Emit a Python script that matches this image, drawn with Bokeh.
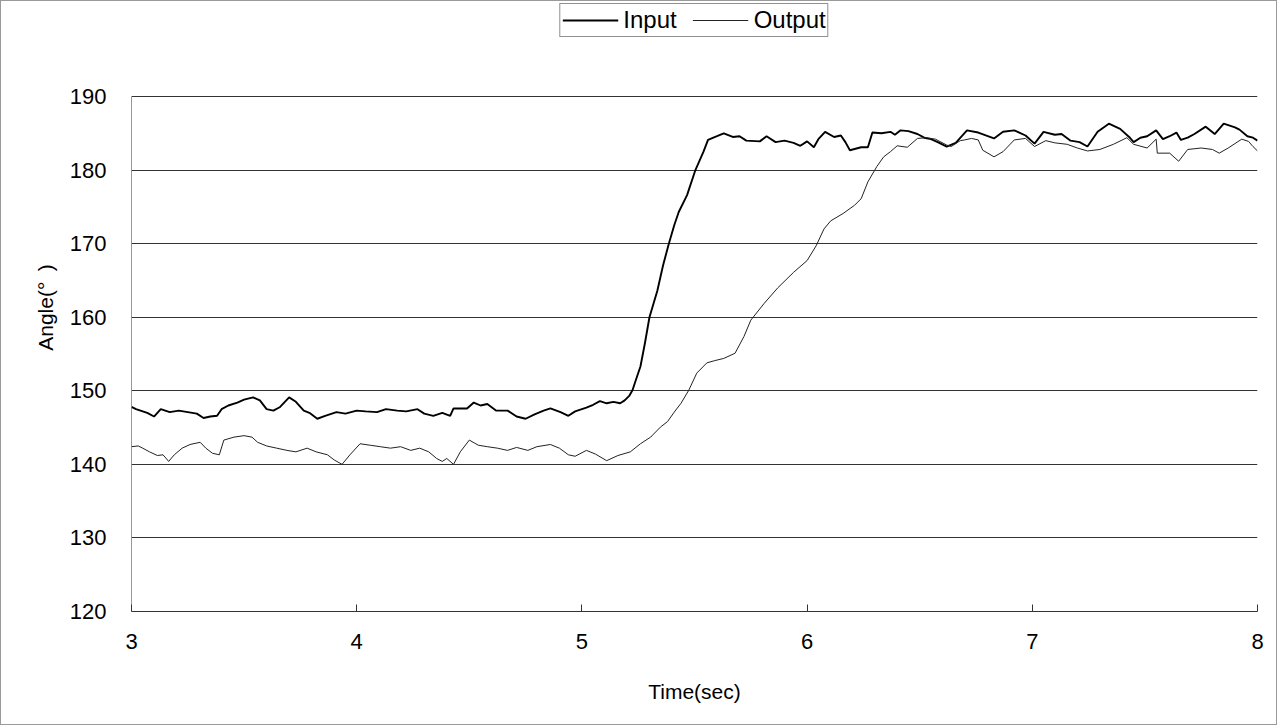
from bokeh.plotting import figure
from bokeh.models import Legend, LegendItem, FixedTicker, Range1d
from bokeh.embed import file_html
from bokeh.resources import INLINE

# ---- data ----
input_time = [3.00, 3.02, 3.04, 3.07, 3.10, 3.13, 3.17, 3.21, 3.25, 3.29, 3.32, 3.35, 3.38, 3.40,
              3.43, 3.47, 3.50, 3.54, 3.57, 3.60, 3.63, 3.66, 3.70, 3.73, 3.765, 3.79, 3.825, 3.86,
              3.91, 3.95, 4.00, 4.04, 4.09, 4.13, 4.18, 4.22, 4.27, 4.30, 4.34, 4.38, 4.415, 4.43,
              4.49, 4.52, 4.55, 4.58, 4.62, 4.67, 4.71, 4.75, 4.79, 4.83, 4.86, 4.905, 4.94, 4.97,
              5.02, 5.05, 5.08, 5.11, 5.14, 5.17, 5.19, 5.21, 5.225, 5.24, 5.26, 5.28, 5.30, 5.335,
              5.36, 5.386, 5.41, 5.43, 5.467, 5.504, 5.54, 5.56, 5.60, 5.63, 5.67, 5.70, 5.73, 5.79,
              5.82, 5.86, 5.90, 5.94, 5.97, 6.00, 6.03, 6.05, 6.08, 6.12, 6.15, 6.17, 6.19, 6.24,
              6.27, 6.29, 6.33, 6.37, 6.39, 6.415, 6.45, 6.49, 6.52, 6.55, 6.58, 6.62, 6.66, 6.71,
              6.76, 6.83, 6.87, 6.92, 6.97, 7.01, 7.05, 7.10, 7.13, 7.17, 7.21, 7.245, 7.29, 7.34,
              7.39, 7.43, 7.45, 7.48, 7.51, 7.55, 7.58, 7.61, 7.64, 7.66, 7.69, 7.72, 7.77, 7.81,
              7.85, 7.90, 7.92, 7.955, 7.98, 8.00]
input_angle = [147.8, 147.5, 147.3, 147.0, 146.5, 147.5, 147.1, 147.3, 147.1, 146.9, 146.3, 146.5, 146.6, 147.5,
               148.0, 148.4, 148.8, 149.1, 148.7, 147.5, 147.3, 147.8, 149.1, 148.5, 147.3, 147.0, 146.2, 146.6,
               147.1, 146.9, 147.3, 147.2, 147.1, 147.5, 147.3, 147.2, 147.5, 146.9, 146.6, 147.0, 146.6, 147.6,
               147.6, 148.4, 148.0, 148.2, 147.3, 147.3, 146.5, 146.2, 146.8, 147.3, 147.6, 147.1, 146.6, 147.2,
               147.7, 148.1, 148.6, 148.3, 148.5, 148.3, 148.7, 149.3, 150.1, 151.5, 153.3, 156.5, 160.0, 163.6,
               167.0, 170.0, 172.5, 174.3, 176.6, 180.0, 182.5, 184.1, 184.6, 185.0, 184.5, 184.6, 184.0, 183.9,
               184.6, 183.8, 184.0, 183.7, 183.3, 183.9, 183.1, 184.2, 185.2, 184.5, 184.7, 183.8, 182.7, 183.1,
               183.1, 185.1, 185.0, 185.2, 184.8, 185.4, 185.3, 184.9, 184.4, 184.2, 183.8, 183.2, 183.7, 185.4,
               185.1, 184.3, 185.2, 185.4, 184.7, 183.6, 185.2, 184.8, 184.9, 184.0, 183.8, 183.2, 185.2, 186.3,
               185.6, 184.5, 183.8, 184.4, 184.6, 185.4, 184.2, 184.6, 185.1, 184.1, 184.4, 184.9, 185.9, 184.9,
               186.3, 185.8, 185.5, 184.6, 184.4, 184.0]

output_time = [3.00, 3.03, 3.05, 3.08, 3.115, 3.14, 3.165, 3.19, 3.225, 3.26, 3.305, 3.33, 3.36, 3.39,
               3.41, 3.455, 3.50, 3.535, 3.56, 3.60, 3.645, 3.69, 3.73, 3.78, 3.82, 3.87, 3.90, 3.935,
               3.97, 4.015, 4.06, 4.105, 4.15, 4.195, 4.24, 4.28, 4.32, 4.355, 4.38, 4.40, 4.43, 4.46,
               4.50, 4.54, 4.58, 4.625, 4.67, 4.71, 4.76, 4.80, 4.86, 4.90, 4.94, 4.97, 5.02, 5.06,
               5.11, 5.16, 5.215, 5.26, 5.305, 5.35, 5.38, 5.41, 5.44, 5.475, 5.51, 5.555, 5.59, 5.63,
               5.68, 5.72, 5.75, 5.81, 5.87, 5.94, 6.00, 6.04, 6.075, 6.105, 6.16, 6.21, 6.24, 6.27,
               6.31, 6.34, 6.37, 6.40, 6.445, 6.49, 6.53, 6.57, 6.62, 6.64, 6.68, 6.70, 6.73, 6.76,
               6.78, 6.83, 6.87, 6.92, 6.97, 7.01, 7.06, 7.10, 7.155, 7.20, 7.245, 7.30, 7.36, 7.42,
               7.45, 7.51, 7.55, 7.555, 7.61, 7.65, 7.69, 7.75, 7.80, 7.83, 7.87, 7.93, 7.96, 7.98, 8.00]
output_angle = [142.4, 142.5, 142.2, 141.7, 141.2, 141.3, 140.4, 141.3, 142.2, 142.7, 143.0, 142.2, 141.5, 141.3,
                143.3, 143.7, 143.9, 143.7, 143.0, 142.5, 142.2, 141.9, 141.7, 142.2, 141.7, 141.3, 140.6, 140.0,
                141.3, 142.8, 142.6, 142.4, 142.2, 142.4, 141.9, 142.2, 141.7, 140.8, 140.4, 140.8, 140.0, 141.7,
                143.3, 142.6, 142.4, 142.2, 141.9, 142.3, 141.9, 142.4, 142.7, 142.2, 141.3, 141.1, 141.9, 141.4,
                140.5, 141.2, 141.7, 142.8, 143.7, 145.1, 145.8, 147.1, 148.3, 150.1, 152.4, 153.8, 154.1, 154.4,
                155.1, 157.4, 159.6, 161.9, 164.0, 166.1, 167.7, 169.7, 172.0, 173.1, 174.1, 175.2, 176.1, 178.4,
                180.5, 181.8, 182.5, 183.3, 183.1, 184.3, 184.4, 184.2, 183.4, 183.2, 184.0, 184.1, 184.3, 184.1,
                182.7, 181.8, 182.5, 184.1, 184.3, 183.2, 184.0, 183.7, 183.5, 183.0, 182.6, 182.8, 183.5, 184.4,
                183.5, 183.0, 184.2, 182.3, 182.3, 181.2, 182.8, 183.0, 182.8, 182.3, 183.0, 184.2, 183.9, 183.2, 182.6]

x_ticks = [3, 4, 5, 6, 7, 8]
y_ticks = [120, 130, 140, 150, 160, 170, 180, 190]
series_names = ["Input", "Output"]

FONT = "Liberation Sans"

# plot-area geometry: value axis 120..190 spans 515 px; the frame extends up to the
# top of the canvas so that the legend (inside the frame) can sit at the very top.
AXIS_PX = 515
TOP_EXTRA_PX = 93
y_lo, y_hi = y_ticks[0], y_ticks[-1]
y_top = y_lo + (y_hi - y_lo) * (AXIS_PX + TOP_EXTRA_PX) / AXIS_PX

p = figure(width=1275, height=723, frame_width=1126, frame_height=AXIS_PX + TOP_EXTRA_PX,
           x_range=Range1d(x_ticks[0], x_ticks[-1]), y_range=Range1d(y_lo, y_top),
           output_backend="svg", toolbar_location=None,
           min_border_left=130, min_border_right=19, min_border_top=2, min_border_bottom=113)
p.styles = {"border": "1px solid #9a9a9a"}
p.background_fill_color = "white"
p.border_fill_color = "white"
p.outline_line_color = None

r_in = p.line(input_time, input_angle, line_color="black", line_width=1.9)
r_out = p.line(output_time, output_angle, line_color="#222222", line_width=1.0)

# left value-axis line only over the value span
p.segment(x0=[x_ticks[0]], y0=[y_lo], x1=[x_ticks[0]], y1=[y_hi], line_color="#333333", line_width=1)

# axes
p.xaxis.ticker = FixedTicker(ticks=x_ticks)
p.yaxis.ticker = FixedTicker(ticks=y_ticks)
for ax in (p.xaxis[0], p.yaxis[0]):
    ax.axis_line_color = "#333333"
    ax.axis_line_width = 1
    ax.major_label_text_font = FONT
    ax.major_label_text_font_size = "22px"
    ax.major_label_text_color = "black"
    ax.axis_label_text_font = FONT
    ax.axis_label_text_font_size = "21px"
    ax.axis_label_text_font_style = "normal"
    ax.axis_label_text_color = "black"
    ax.minor_tick_line_color = None

p.xaxis.major_tick_in = 7
p.xaxis.major_tick_out = 0
p.xaxis.major_tick_line_color = "#333333"
p.xaxis.major_label_standoff = 22
p.xaxis.axis_label = "Time(sec)"
p.xaxis.axis_label_standoff = 28

p.yaxis.axis_line_color = None
p.yaxis.major_tick_line_color = None
p.yaxis.major_label_standoff = 19
p.yaxis.axis_label = "Angle(°\u2002)"
p.yaxis.axis_label_standoff = 10

p.xgrid.grid_line_color = None
p.ygrid.grid_line_color = "#333333"
p.ygrid.grid_line_width = 1

legend = Legend(items=[LegendItem(label=series_names[0], renderers=[r_in]),
                       LegendItem(label=series_names[1], renderers=[r_out])],
                orientation="horizontal", location="top",
                label_text_font=FONT, label_text_font_size="24px", label_text_color="black",
                glyph_width=56, glyph_height=22, label_standoff=5, spacing=16,
                padding=2, margin=0, border_line_color="#222222", border_line_width=1,
                background_fill_alpha=1.0)
p.add_layout(legend, "center")

open("out.html", "w").write(file_html(p, INLINE))
